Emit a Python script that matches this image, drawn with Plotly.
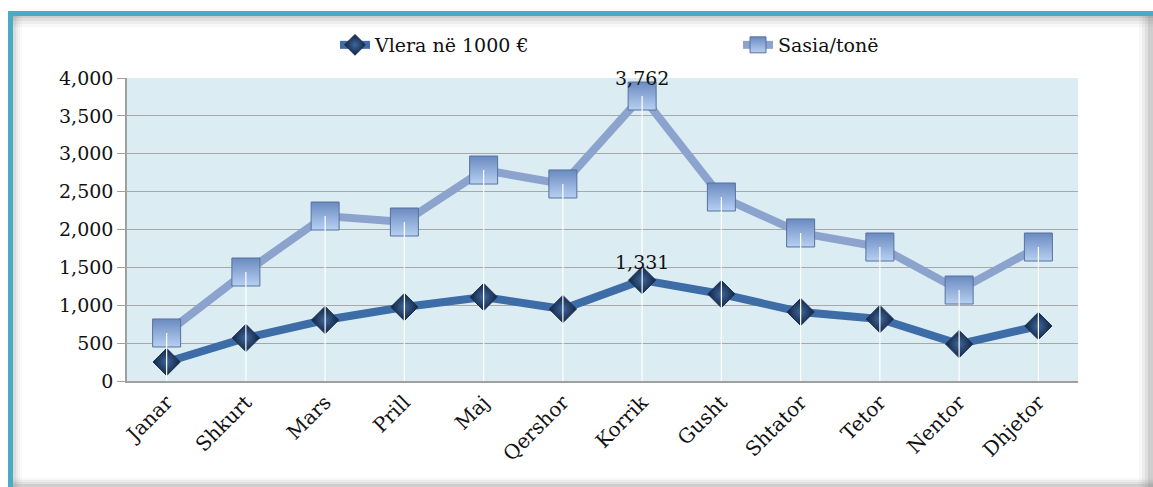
import plotly.graph_objects as go

months = ["Janar", "Shkurt", "Mars", "Prill", "Maj", "Qershor",
          "Korrik", "Gusht", "Shtator", "Tetor", "Nentor", "Dhjetor"]
vlera = [251, 568, 805, 977, 1109, 950, 1331, 1148, 911, 818, 488, 726]
sasia = [634, 1439, 2178, 2099, 2785, 2601, 3762, 2429, 1954, 1769, 1201, 1769]
y_ticks = [0, 500, 1000, 1500, 2000, 2500, 3000, 3500, 4000]

W, H = 1153, 487
L, R, T, B = 127, 1078, 78, 381
FONT = "DejaVu Serif"
FS = 19

def px(x):
    return (x - L) / (R - L)

def py(y):
    return (B - y) / (B - T)

fig = go.Figure()

fig.add_trace(go.Scatter(
    x=months, y=vlera, name="Vlera në 1000 €", mode="lines+markers",
    line=dict(color="#3D6CA7", width=8),
    marker=dict(symbol="diamond", size=21, color="#122340",
                gradient=dict(type="radial", color="#3E679C"),
                line=dict(color="#1D3456", width=1)),
    cliponaxis=False,
))
fig.add_trace(go.Scatter(
    x=months, y=sasia, name="Sasia/tonë", mode="lines+markers",
    line=dict(color="#8CA4CD", width=8),
    marker=dict(symbol="square", size=28, color="#6A8AC0",
                gradient=dict(type="vertical", color="#B7D0F2"),
                line=dict(color="#56719E", width=1)),
    cliponaxis=False,
))
# white drop lines from the upper series down to the axis
fig.add_trace(go.Scatter(
    x=months, y=sasia, mode="markers", showlegend=False, hoverinfo="skip",
    marker=dict(size=1, color="rgba(0,0,0,0)"),
    error_y=dict(type="data", symmetric=False, array=[0] * len(sasia),
                 arrayminus=sasia, color="white", thickness=1.2, width=0),
))

# data labels only on the peak month
annotations = []
for series in (vlera, sasia):
    i = series.index(max(series))
    annotations.append(dict(x=months[i], y=series[i], text="{:,}".format(series[i]),
                            showarrow=False, yshift=18,
                            font=dict(size=FS, family=FONT, color="#111111")))

shapes = []
# soft shadow along bottom / right / under top border
for i, a in enumerate([0.05, 0.08, 0.12, 0.16]):
    shapes.append(dict(type="rect", xref="paper", yref="paper",
                       x0=px(8), x1=px(W), y0=py(H), y1=py(H - 9 + i * 2),
                       line=dict(width=0), fillcolor="rgba(120,120,120,%s)" % a, layer="below"))
    shapes.append(dict(type="rect", xref="paper", yref="paper",
                       x0=px(W - 14 + i * 3), x1=px(W), y0=py(H), y1=py(13),
                       line=dict(width=0), fillcolor="rgba(120,120,120,%s)" % a, layer="below"))
    shapes.append(dict(type="rect", xref="paper", yref="paper",
                       x0=px(13), x1=px(W), y0=py(27 - i * 3), y1=py(16),
                       line=dict(width=0), fillcolor="rgba(120,120,120,%s)" % a, layer="below"))
    shapes.append(dict(type="rect", xref="paper", yref="paper",
                       x0=px(13), x1=px(22 - i * 2), y0=py(H), y1=py(16),
                       line=dict(width=0), fillcolor="rgba(120,120,120,%s)" % (a * 0.7), layer="below"))
# teal frame
shapes.append(dict(type="rect", xref="paper", yref="paper",
                   x0=px(8), x1=px(W), y0=py(16), y1=py(11),
                   line=dict(width=0), fillcolor="#4AABC4", layer="below"))
shapes.append(dict(type="rect", xref="paper", yref="paper",
                   x0=px(8), x1=px(13), y0=py(H), y1=py(11),
                   line=dict(width=0), fillcolor="#4AABC4", layer="below"))

fig.update_layout(
    width=W, height=H,
    margin=dict(l=L, r=W - R, t=T, b=H - B, autoexpand=False),
    paper_bgcolor="white", plot_bgcolor="#DBEDF3",
    font=dict(family=FONT, size=FS, color="#111111"),
    shapes=shapes, annotations=annotations,
    legend=dict(orientation="h", x=px(335), y=py(45), xanchor="left", yanchor="middle",
                entrywidth=358, entrywidthmode="pixels",
                font=dict(size=FS, family=FONT), bgcolor="rgba(0,0,0,0)"),
    showlegend=True,
)
fig.update_xaxes(range=[-0.5, len(months) - 0.5], showgrid=False, showline=True,
                 linecolor="#A0A0A0", linewidth=1.5,
                 tickangle=-45, ticks="", tickfont=dict(size=FS + 1, family=FONT))
fig.update_yaxes(range=[0, 4000], tickvals=y_ticks, tickformat=",d",
                 showgrid=True, gridcolor="#A8A8A8", gridwidth=1.3,
                 showline=True, linecolor="#A0A0A0", linewidth=1.5,
                 ticks="outside", ticklen=8, tickcolor="#A0A0A0",
                 zeroline=False, tickfont=dict(size=FS, family=FONT))

# drop the browser's default page margin so the figure sits at 0,0
fig.write_html("out.html", config={"displayModeBar": False},
               post_script="document.body.style.margin='0';")
